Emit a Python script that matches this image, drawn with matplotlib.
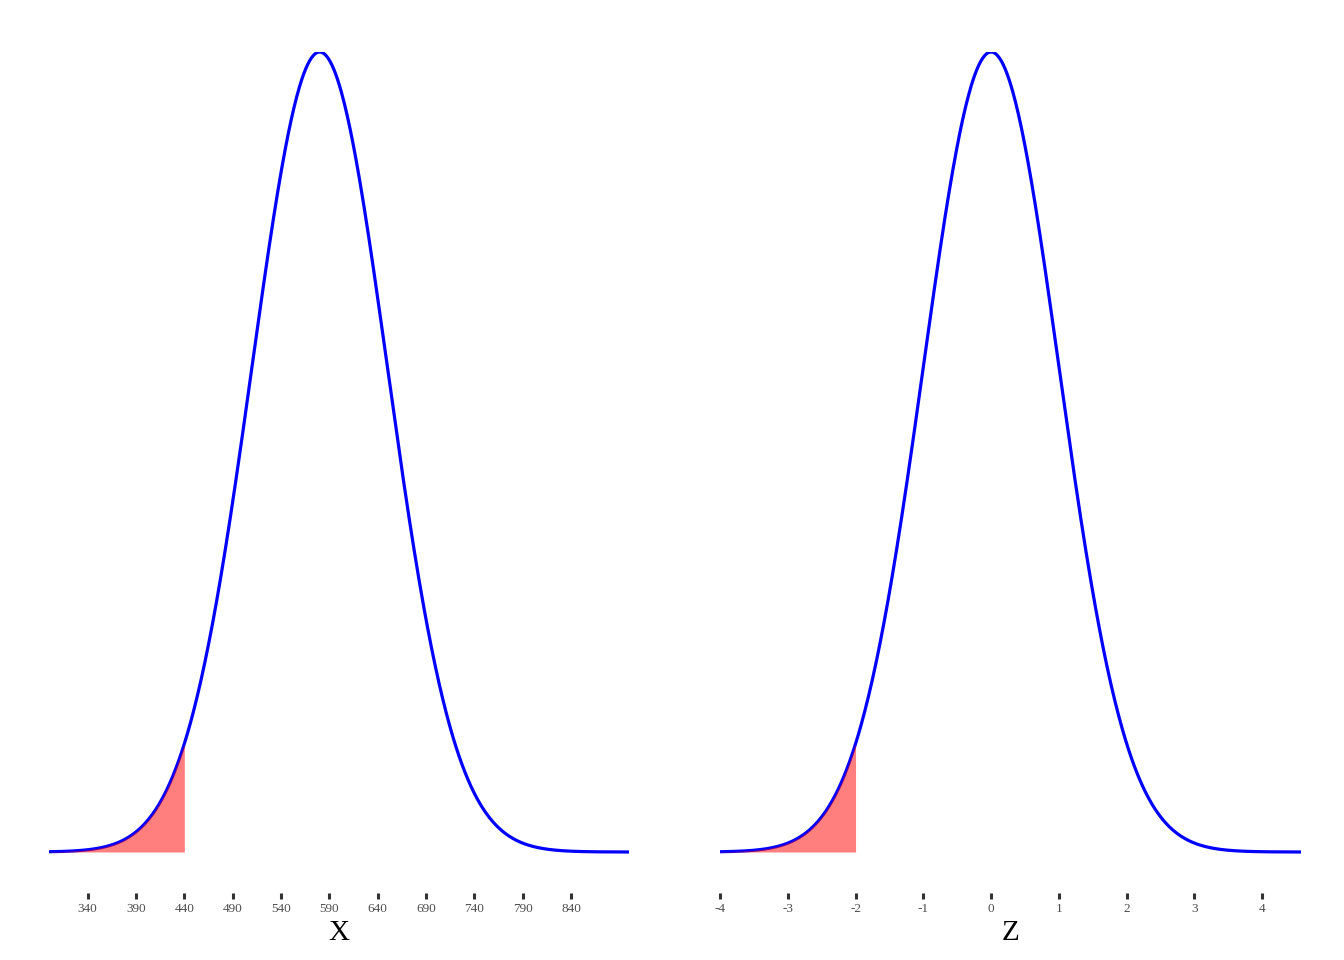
import numpy as np
import matplotlib.pyplot as plt

# distribution parameters
mu = 580
sigma = 70
x_lo, x_hi = 300, 900
cutoff = 440

x_ticks = [340, 390, 440, 490, 540, 590, 640, 690, 740, 790, 840]
z_ticks = [-4, -3, -2, -1, 0, 1, 2, 3, 4]

plt.rcParams['font.family'] = ['Liberation Serif', 'DejaVu Serif']


def dens(v, m, s):
    return np.exp(-0.5 * ((v - m) / s) ** 2) / (s * np.sqrt(2 * np.pi))


fig = plt.figure(figsize=(13.44, 9.6), dpi=100)
W, H = 1344, 960
top_px, base_px, bot_px = 52, 852, 893

panels = [
    (49, 629, 1.0, 0.0, x_ticks, 'X'),
    (720, 1301, sigma, mu, z_ticks, 'Z'),
]

for left_px, right_px, scale, shift, ticks, label in panels:
    ax = fig.add_axes([left_px / W, 1 - bot_px / H,
                       (right_px - left_px) / W, (bot_px - top_px) / H])
    # transform to this panel's units
    lo = (x_lo - shift) / scale
    hi = (x_hi - shift) / scale
    m = (mu - shift) / scale
    s = sigma / scale
    c = (cutoff - shift) / scale
    xs = np.linspace(lo, hi, 600)
    ys = dens(xs, m, s)
    peak = dens(m, m, s)
    ax.plot(xs, ys, color='#0000FF', lw=2.3, solid_capstyle='butt', zorder=2)
    # shaded tail sits on top of the curve, as in the original
    xf = np.linspace(lo, c, 300)
    ax.fill_between(xf, 0, dens(xf, m, s), color='#FF0000', alpha=0.5, lw=0, zorder=3)
    ax.set_xlim(lo, hi)
    ax.set_ylim(-peak * (bot_px - base_px) / (base_px - top_px), peak)
    ax.set_xticks(ticks)
    ax.set_xticklabels([str(t) for t in ticks])
    ax.set_yticks([])
    for sp in ax.spines.values():
        sp.set_visible(False)
    ax.tick_params(axis='x', direction='out', length=4.5, width=2.2,
                   color='#333333', labelsize=9.5, labelcolor='#4D4D4D', pad=3)
    ax.set_xlabel(label, fontsize=21, color='black', labelpad=3)
    ax.patch.set_alpha(0)

fig.savefig('out.png', dpi=100, facecolor='white')
